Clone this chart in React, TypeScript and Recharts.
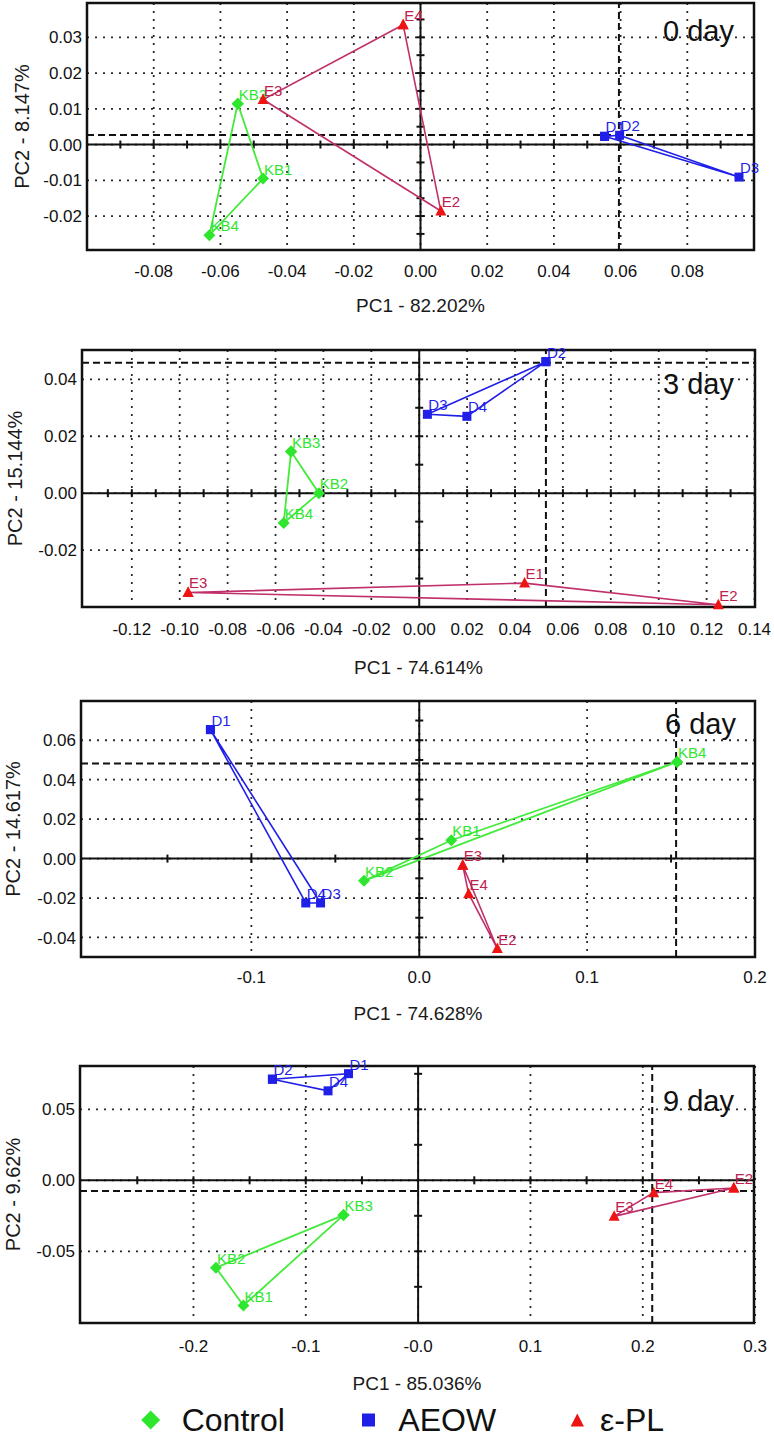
import React from 'react';
import {
  ScatterChart, Scatter, XAxis, YAxis, CartesianGrid, ReferenceLine, ReferenceArea, ReferenceDot,
} from 'recharts';

const FONT = "'Liberation Sans', Arial, sans-serif";

const GREEN = '#2ee62e';
const BLUE = '#1f1fe8';
const RED = '#ee1414';
const RED_LINE = '#c0306a';
const RED_TEXT = '#c0204e';

const seriesNames = ['Control', 'AEOW', 'ε-PL'];
const dayTitles = ['0 day', '3 day', '6 day', '9 day'];
const xTitles = ['PC1 - 82.202%', 'PC1 - 74.614%', 'PC1 - 74.628%', 'PC1 - 85.036%'];
const yTitles = ['PC2 - 8.147%', 'PC2 - 15.144%', 'PC2 - 14.617%', 'PC2 - 9.62%'];

// ---- Day 0 ----
const control0 = [
  { name: 'KB3', x: -0.0548, y: 0.0114 },
  { name: 'KB1', x: -0.0472, y: -0.0095 },
  { name: 'KB4', x: -0.0633, y: -0.0254 },
];
const aeow0 = [
  { name: 'D1', x: 0.0552, y: 0.0023 },
  { name: 'D2', x: 0.0597, y: 0.0026 },
  { name: 'D3', x: 0.0955, y: -0.0091 },
];
const epl0 = [
  { name: 'E4', x: -0.0052, y: 0.0335 },
  { name: 'E3', x: -0.0472, y: 0.0126 },
  { name: 'E2', x: 0.0061, y: -0.0186 },
];
const xTicks0 = [-0.08, -0.06, -0.04, -0.02, 0, 0.02, 0.04, 0.06, 0.08];
const xLabels0 = ['-0.08', '-0.06', '-0.04', '-0.02', '0.00', '0.02', '0.04', '0.06', '0.08'];
const yTicks0 = [-0.02, -0.01, 0, 0.01, 0.02, 0.03];
const yLabels0 = ['-0.02', '-0.01', '0.00', '0.01', '0.02', '0.03'];
const xMinor0 = [-0.09, -0.08, -0.07, -0.06, -0.05, -0.04, -0.03, -0.02, -0.01, 0.01, 0.02, 0.03, 0.04, 0.05, 0.06, 0.07, 0.08, 0.09];
const yMinor0 = [-0.025, -0.02, -0.015, -0.01, -0.005, 0.005, 0.01, 0.015, 0.02, 0.025, 0.03, 0.035];

// ---- Day 3 ----
const control3 = [
  { name: 'KB3', x: -0.0535, y: 0.0146 },
  { name: 'KB2', x: -0.0419, y: 0.0 },
  { name: 'KB4', x: -0.0566, y: -0.0105 },
];
const aeow3 = [
  { name: 'D2', x: 0.0529, y: 0.0462 },
  { name: 'D3', x: 0.0034, y: 0.0277 },
  { name: 'D4', x: 0.0199, y: 0.027 },
];
const epl3 = [
  { name: 'E3', x: -0.0965, y: -0.0349 },
  { name: 'E1', x: 0.044, y: -0.0316 },
  { name: 'E2', x: 0.1249, y: -0.0392 },
];
const xTicks3 = [-0.12, -0.1, -0.08, -0.06, -0.04, -0.02, 0, 0.02, 0.04, 0.06, 0.08, 0.1, 0.12, 0.14];
const xLabels3 = ['-0.12', '-0.10', '-0.08', '-0.06', '-0.04', '-0.02', '0.00', '0.02', '0.04', '0.06', '0.08', '0.10', '0.12', '0.14'];
const yTicks3 = [-0.02, 0, 0.02, 0.04];
const yLabels3 = ['-0.02', '0.00', '0.02', '0.04'];
const xMinor3 = [-0.13, -0.12, -0.11, -0.1, -0.09, -0.08, -0.07, -0.06, -0.05, -0.04, -0.03, -0.02, -0.01, 0.01, 0.02, 0.03, 0.04, 0.05, 0.06, 0.07, 0.08, 0.09, 0.1, 0.11, 0.12, 0.13];
const yMinor3 = [-0.03, -0.02, -0.01, 0.01, 0.02, 0.03, 0.04];

// ---- Day 6 ----
const control6 = [
  { name: 'KB4', x: 0.1536, y: 0.049 },
  { name: 'KB1', x: 0.0191, y: 0.0093 },
  { name: 'KB2', x: -0.0329, y: -0.0113 },
];
const aeow6 = [
  { name: 'D1', x: -0.1244, y: 0.0654 },
  { name: 'D4', x: -0.0676, y: -0.0225 },
  { name: 'D3', x: -0.0588, y: -0.0225 },
];
const epl6 = [
  { name: 'E3', x: 0.0259, y: -0.0034 },
  { name: 'E4', x: 0.0294, y: -0.0178 },
  { name: 'E2', x: 0.0465, y: -0.0456 },
];
const xTicks6 = [-0.1, 0, 0.1, 0.2];
const xLabels6 = ['-0.1', '0.0', '0.1', '0.2'];
const yTicks6 = [-0.04, -0.02, 0, 0.02, 0.04, 0.06];
const yLabels6 = ['-0.04', '-0.02', '0.00', '0.02', '0.04', '0.06'];
const xMinor6 = [-0.15, -0.1, -0.05, 0.05, 0.1, 0.15];
const yMinor6 = [-0.04, -0.03, -0.02, -0.01, 0.01, 0.02, 0.03, 0.04, 0.05, 0.06, 0.07];

// ---- Day 9 ----
const control9 = [
  { name: 'KB3', x: -0.0664, y: -0.0245 },
  { name: 'KB2', x: -0.18, y: -0.0616 },
  { name: 'KB1', x: -0.1555, y: -0.0882 },
];
const aeow9 = [
  { name: 'D2', x: -0.1297, y: 0.0712 },
  { name: 'D1', x: -0.062, y: 0.0751 },
  { name: 'D4', x: -0.0802, y: 0.063 },
];
const epl9 = [
  { name: 'E2', x: 0.281, y: -0.0054 },
  { name: 'E4', x: 0.2097, y: -0.0087 },
  { name: 'E3', x: 0.1745, y: -0.0254 },
];
const xTicks9 = [-0.2, -0.1, 0, 0.1, 0.2, 0.3];
const xLabels9 = ['-0.2', '-0.1', '-0.0', '0.1', '0.2', '0.3'];
const yTicks9 = [-0.05, 0, 0.05];
const yLabels9 = ['-0.05', '0.00', '0.05'];
const xMinor9 = [-0.25, -0.2, -0.15, -0.1, -0.05, 0.05, 0.1, 0.15, 0.2, 0.25];
const yMinor9 = [-0.075, -0.05, -0.025, 0.025, 0.05, 0.075];

// dashed centre lines (x, y)
const centre0 = [0.0595, 0.0027];
const centre3 = [0.0529, 0.0458];
const centre6 = [0.153, 0.0482];
const centre9 = [0.2084, -0.0075];

const closed = (arr: any[]) => [...arr, { ...arr[0], name: '' }];

type Kind = 'diamond' | 'square' | 'triangle';

const makeShape = (kind: Kind, fill: string, textColor: string) => (props: any) => {
  const { cx, cy, payload } = props;
  if (cx == null || cy == null) return null;
  let mark: React.ReactNode;
  if (kind === 'diamond') {
    mark = <polygon points={`${cx},${cy - 6} ${cx + 6},${cy} ${cx},${cy + 6} ${cx - 6},${cy}`} fill={fill} />;
  } else if (kind === 'square') {
    mark = <rect x={cx - 4.5} y={cy - 4.5} width={9} height={9} fill={fill} />;
  } else {
    mark = <polygon points={`${cx},${cy - 6} ${cx + 5.5},${cy + 4.5} ${cx - 5.5},${cy + 4.5}`} fill={fill} />;
  }
  return (
    <g>
      {mark}
      {payload && payload.name ? (
        <text x={cx + 1} y={cy - 4} fill={textColor} fontSize={15} fontFamily={FONT}>
          {payload.name}
        </text>
      ) : null}
    </g>
  );
};

const diamondShape = makeShape('diamond', GREEN, GREEN);
const squareShape = makeShape('square', BLUE, BLUE);
const triangleShape = makeShape('triangle', RED, RED_TEXT);

type PanelCfg = {
  top: number; height: number; mt: number; mr: number; yw: number;
  xDomain: [number, number]; yDomain: [number, number];
  xTicks: number[]; xLabels: string[]; yTicks: number[]; yLabels: string[];
  xMinor: number[]; yMinor: number[];
  control: any[]; aeow: any[]; epl: any[];
  centre: number[]; title: string; xTitle: string; yTitle: string;
  xTickMargin: number; xTitleOffset: number; yTitleX: number; dayBaseline: number; dayRight: number;
};

const panels: PanelCfg[] = [
  {
    top: 0, height: 320, mt: 3, mr: 20, yw: 87,
    xDomain: [-0.1, 0.1], yDomain: [-0.0295, 0.0396],
    xTicks: xTicks0, xLabels: xLabels0, yTicks: yTicks0, yLabels: yLabels0,
    xMinor: xMinor0, yMinor: yMinor0,
    control: control0, aeow: aeow0, epl: epl0, centre: centre0,
    title: dayTitles[0], xTitle: xTitles[0], yTitle: yTitles[0],
    xTickMargin: 15, xTitleOffset: 8, yTitleX: 22, dayBaseline: 41, dayRight: 734,
  },
  {
    top: 320, height: 357, mt: 30, mr: 19, yw: 82,
    xDomain: [-0.1408, 0.1402], yDomain: [-0.04, 0.0503],
    xTicks: xTicks3, xLabels: xLabels3, yTicks: yTicks3, yLabels: yLabels3,
    xMinor: xMinor3, yMinor: yMinor3,
    control: control3, aeow: aeow3, epl: epl3, centre: centre3,
    title: dayTitles[1], xTitle: xTitles[1], yTitle: yTitles[1],
    xTickMargin: 16, xTitleOffset: 3, yTitleX: 15, dayBaseline: 74, dayRight: 734,
  },
  {
    top: 660, height: 367, mt: 41, mr: 19, yw: 81,
    xDomain: [-0.2015, 0.2], yDomain: [-0.0499, 0.0799],
    xTicks: xTicks6, xLabels: xLabels6, yTicks: yTicks6, yLabels: yLabels6,
    xMinor: xMinor6, yMinor: yMinor6,
    control: control6, aeow: aeow6, epl: epl6, centre: centre6,
    title: dayTitles[2], xTitle: xTitles[2], yTitle: yTitles[2],
    xTickMargin: 14, xTitleOffset: 7, yTitleX: 13, dayBaseline: 74, dayRight: 736,
  },
  {
    top: 1020, height: 373, mt: 46, mr: 20, yw: 80,
    xDomain: [-0.301, 0.299], yDomain: [-0.1005, 0.0805],
    xTicks: xTicks9, xLabels: xLabels9, yTicks: yTicks9, yLabels: yLabels9,
    xMinor: xMinor9, yMinor: yMinor9,
    control: control9, aeow: aeow9, epl: epl9, centre: centre9,
    title: dayTitles[3], xTitle: xTitles[3], yTitle: yTitles[3],
    xTickMargin: 17, xTitleOffset: 3, yTitleX: 13, dayBaseline: 91, dayRight: 734,
  },
];

const tickStyle = { fontSize: 17, fill: '#111', fontFamily: FONT };

function Panel({ c }: { c: PanelCfg }) {
  const xf = (v: number, i: number) => c.xLabels[c.xTicks.indexOf(v)] ?? c.xLabels[i];
  const yf = (v: number, i: number) => c.yLabels[c.yTicks.indexOf(v)] ?? c.yLabels[i];
  return (
    <div style={{ position: 'absolute', left: 0, top: c.top, width: 774, height: c.height }}>
      <ScatterChart width={774} height={c.height} margin={{ top: c.mt, right: c.mr, bottom: 0, left: 0 }}>
        <CartesianGrid stroke="#2a2a2a" strokeDasharray="2 6" strokeWidth={1.8} />
        <XAxis
          type="number" dataKey="x" domain={c.xDomain} ticks={c.xTicks} tickFormatter={xf}
          axisLine={false} tickLine={false} tickSize={0} tickMargin={c.xTickMargin}
          height={70} tick={tickStyle} interval={0}
          label={{ value: c.xTitle, position: 'insideBottom', offset: c.xTitleOffset, style: { fontSize: 19, fill: '#1a1a1a', fontFamily: FONT } }}
        />
        <YAxis
          type="number" dataKey="y" domain={c.yDomain} ticks={c.yTicks} tickFormatter={yf}
          axisLine={false} tickLine={false} tickSize={0} tickMargin={5}
          width={c.yw} tick={tickStyle} interval={0}
          label={{ value: c.yTitle, angle: -90, position: 'insideLeft', offset: c.yTitleX, style: { fontSize: 20, fill: '#1a1a1a', fontFamily: FONT, textAnchor: 'middle' } }}
        />
        <ReferenceLine x={0} stroke="#111" strokeWidth={2} />
        <ReferenceLine y={0} stroke="#111" strokeWidth={2} />
        {c.xMinor.map((v) => (
          <ReferenceDot key={'xm' + v} x={v} y={0} r={0}
            shape={(p: any) => <line x1={p.cx} x2={p.cx} y1={p.cy - 4} y2={p.cy + 4} stroke="#111" strokeWidth={2} />} />
        ))}
        {c.yMinor.map((v) => (
          <ReferenceDot key={'ym' + v} x={0} y={v} r={0}
            shape={(p: any) => <line x1={p.cx - 4} x2={p.cx + 4} y1={p.cy} y2={p.cy} stroke="#111" strokeWidth={2} />} />
        ))}
        <ReferenceLine x={c.centre[0]} stroke="#111" strokeWidth={2} strokeDasharray="7 4" />
        <ReferenceLine y={c.centre[1]} stroke="#111" strokeWidth={2} strokeDasharray="7 4" />
        <ReferenceArea x1={c.xDomain[0]} x2={c.xDomain[1]} y1={c.yDomain[0]} y2={c.yDomain[1]}
          fill="none" fillOpacity={0} stroke="#111" strokeWidth={2.5} strokeOpacity={1} />
        <Scatter name={seriesNames[0]} data={closed(c.control)} line={{ stroke: '#44ea3c', strokeWidth: 1.8 }}
          lineType="joint" shape={diamondShape} isAnimationActive={false} />
        <Scatter name={seriesNames[1]} data={closed(c.aeow)} line={{ stroke: BLUE, strokeWidth: 1.6 }}
          lineType="joint" shape={squareShape} isAnimationActive={false} />
        <Scatter name={seriesNames[2]} data={closed(c.epl)} line={{ stroke: RED_LINE, strokeWidth: 1.6 }}
          lineType="joint" shape={triangleShape} isAnimationActive={false} />
        <text x={c.dayRight} y={c.dayBaseline} textAnchor="end" fontSize={29} fontFamily={FONT} fill="#111">
          {c.title}
        </text>
      </ScatterChart>
    </div>
  );
}

function Legend() {
  return (
    <div style={{ position: 'absolute', left: 0, top: 1380, width: 774, height: 58 }}>
      <svg width={774} height={58} style={{ overflow: 'visible' }}>
        <polygon points="150.7,30.5 160.2,40 150.7,49.5 141.2,40" fill={GREEN} />
        <text x={181.7} y={51} fontSize={32} fontFamily={FONT} fill="#111">{seriesNames[0]}</text>
        <rect x={362} y={33.5} width={13} height={13} fill={BLUE} />
        <text x={398.3} y={51} fontSize={32} fontFamily={FONT} fill="#111">{seriesNames[1]}</text>
        <polygon points="577.3,33.5 584,46.5 570.6,46.5" fill={RED} />
        <text x={600} y={51} fontSize={32} fontFamily={FONT} fill="#111">{seriesNames[2]}</text>
      </svg>
    </div>
  );
}

export default function App() {
  return (
    <div style={{ position: 'absolute', left: 0, top: 0, width: 774, height: 1438, background: '#fff', fontFamily: FONT }}>
      {panels.map((c, i) => (
        <Panel key={i} c={c} />
      ))}
      <Legend />
    </div>
  );
}
